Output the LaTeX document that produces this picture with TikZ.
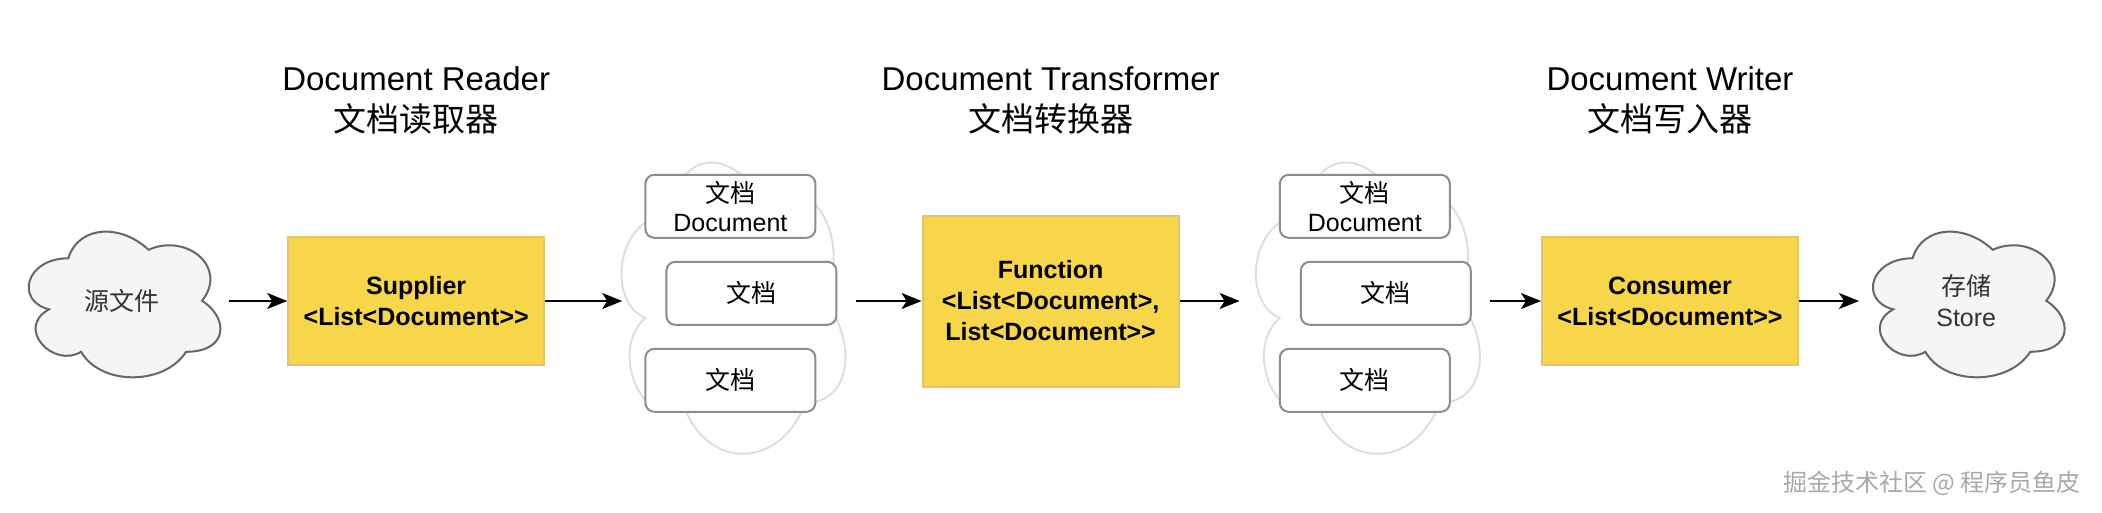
\documentclass[tikz,border=0pt]{standalone}
\usepackage{fontspec}
\setmainfont{Liberation Sans}
\newfontfamily\latinfont{Liberation Sans}
\newfontfamily\cjk{Noto Sans CJK SC}
\usepackage{tikz}
\usetikzlibrary{arrows.meta, positioning, backgrounds}
\definecolor{CloudFill}{HTML}{F5F5F5}
\definecolor{CloudLine}{HTML}{666666}
\definecolor{FaintLine}{HTML}{DEDEDE}
\definecolor{StageYellow}{HTML}{F7D64A}
\definecolor{StageLine}{HTML}{E2C46A}
\definecolor{DocLine}{HTML}{8C8C8C}
\definecolor{InkGray}{HTML}{333333}
\definecolor{MarkGray}{HTML}{A8A8A8}
\tikzset{
  cloudnode/.style={rectangle, inner sep=0pt, minimum width=214pt, minimum height=170pt, align=center, text=InkGray, font=\fontsize{25}{31}\selectfont},
  setnode/.style={rectangle, inner sep=0pt, minimum width=250pt, minimum height=340pt},
  stagebox/.style={rectangle, draw=StageLine, fill=StageYellow, line width=2pt, minimum width=256pt, minimum height=128pt, align=center, font=\latinfont\fontsize{25}{31}\selectfont\bfseries},
  docbox/.style={rectangle, rounded corners=9pt, draw=DocLine, fill=white, line width=2pt, minimum width=170pt, minimum height=63pt, align=center, font=\fontsize{25}{29}\selectfont},
  titlenode/.style={align=center, font=\fontsize{33}{41}\selectfont},
  arrow/.style={-{Stealth[length=20pt, width=16pt, inset=5pt]}, line width=1.8pt}
}
% draw.io cloud outline in the box of a node
\newcommand{\mxcloud}[4][]{%
  \begin{scope}[on background layer, shift={(#2.north west)}, x=#3pt, y=-#4pt]
    \draw[#1] (0.25,0.25) .. controls (0.05,0.25) and (0,0.5) .. (0.16,0.55)
      .. controls (0,0.66) and (0.18,0.9) .. (0.31,0.8)
      .. controls (0.4,1) and (0.7,1) .. (0.8,0.8)
      .. controls (1,0.8) and (1,0.6) .. (0.875,0.5)
      .. controls (1,0.3) and (0.8,0.1) .. (0.625,0.2)
      .. controls (0.5,0.05) and (0.3,0.05) .. (0.25,0.25) -- cycle;
  \end{scope}}
\begin{document}
\begin{tikzpicture}[x=1pt, y=-1pt]
  \useasboundingbox (0,0) rectangle (2102,512);

  \node[cloudnode] (src) at (122,301) {{\cjk 源文件}};
  \node[stagebox, right=58pt of src] (sup) {Supplier\\<List<Document>>};

  \node[setnode, right=60pt of sup] (docsA) {};
  \node[docbox, below=43pt of docsA.north] (docA1) {{\cjk 文档}\\Document};
  \node[docbox, below=22pt of docA1, xshift=21pt] (docA2) {{\cjk 文档}};
  \node[docbox, below=22pt of docA2, xshift=-21pt] (docA3) {{\cjk 文档}};

  \node[stagebox, minimum height=171pt, right=66pt of docsA] (fn) {Function\\<List<Document>,\\List<Document>>};

  \node[setnode, right=60pt of fn] (docsB) {};
  \node[docbox, below=43pt of docsB.north] (docB1) {{\cjk 文档}\\Document};
  \node[docbox, below=22pt of docB1, xshift=21pt] (docB2) {{\cjk 文档}};
  \node[docbox, below=22pt of docB2, xshift=-21pt] (docB3) {{\cjk 文档}};

  \node[stagebox, right=51pt of docsB] (con) {Consumer\\<List<Document>>};
  \node[cloudnode, right=60pt of con] (store) {{\cjk 存储}\\Store};

  \node[titlenode] (tRead) at (sup |- 0,100) {Document Reader\\{\cjk 文档读取器}};
  \node[titlenode] (tTrans) at (fn |- 0,100) {Document Transformer\\{\cjk 文档转换器}};
  \node[titlenode] (tWrite) at (con |- 0,100) {Document Writer\\{\cjk 文档写入器}};

  \node[font=\fontsize{24}{24}\selectfont\cjk, text=MarkGray] (mark) at (1932,483) {掘金技术社区 @ 程序员鱼皮};

  \mxcloud[fill=CloudFill, draw=CloudLine, line width=2pt]{src}{214}{170}
  \mxcloud[fill=CloudFill, draw=CloudLine, line width=2pt]{store}{214}{170}
  \mxcloud[fill=white, draw=FaintLine, line width=2pt]{docsA}{250}{340}
  \mxcloud[fill=white, draw=FaintLine, line width=2pt]{docsB}{250}{340}

  \draw[arrow] (src) -- (sup);
  \draw[arrow, shorten >=-17pt] (sup) -- (docsA);
  \draw[arrow] (docsA) -- (fn);
  \draw[arrow] (fn) -- (docsB);
  \draw[arrow] (docsB) -- (con);
  \draw[arrow] (con) -- (store);
\end{tikzpicture}
\end{document}
